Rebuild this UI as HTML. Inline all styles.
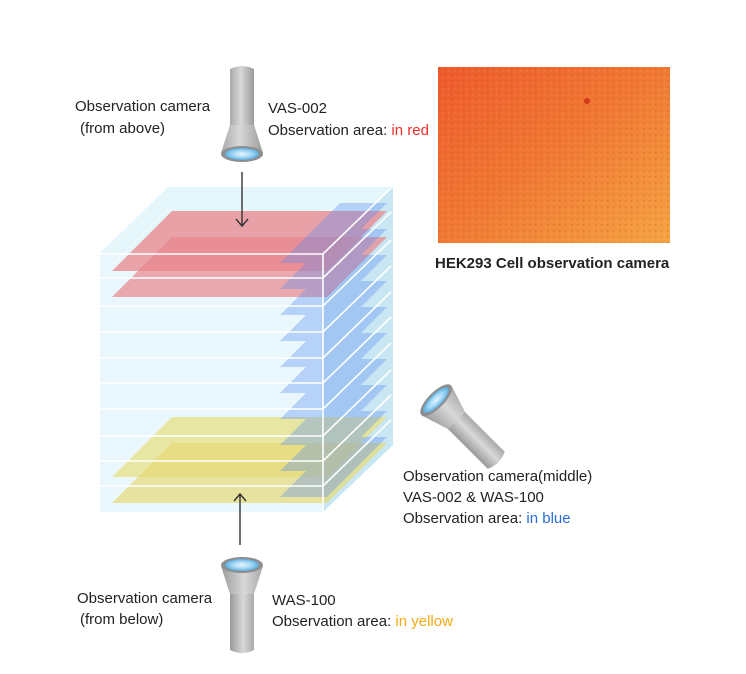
<!DOCTYPE html>
<html><head><meta charset="utf-8"><style>
body{margin:0;background:#fff;width:746px;height:669px;overflow:hidden;font-family:"Liberation Sans",sans-serif}
svg text{font-family:"Liberation Sans",sans-serif;font-size:15px;fill:#222}
</style></head><body>
<svg width="746" height="669" viewBox="0 0 746 669" xmlns="http://www.w3.org/2000/svg">
<defs>
<linearGradient id="bodyg" x1="0" x2="1"><stop offset="0" stop-color="#a9a9a9"/><stop offset="0.45" stop-color="#d8d8d8"/><stop offset="1" stop-color="#9a9a9a"/></linearGradient>
<radialGradient id="lens" cx="0.5" cy="0.5" r="0.5"><stop offset="0" stop-color="#e8f6ff"/><stop offset="0.6" stop-color="#9fd4f2"/><stop offset="1" stop-color="#5aaee0"/></radialGradient>
<linearGradient id="photo" x1="0" y1="0" x2="1" y2="1"><stop offset="0" stop-color="#ee5a2c"/><stop offset="0.5" stop-color="#f07a34"/><stop offset="1" stop-color="#f5a444"/></linearGradient>
<pattern id="dots" width="6" height="6" patternUnits="userSpaceOnUse"><rect x="1" y="2" width="1.5" height="1.5" fill="#c8401c" opacity="0.35"/><rect x="4" y="4.5" width="1.2" height="1.2" fill="#ffb070" opacity="0.35"/></pattern>
<g id="cam">
<path d="M-12,-30 L-12,-88 Q0,-94 12,-88 L12,-30 Z" fill="url(#bodyg)"/>
<path d="M-12,-32 L12,-32 L21,-4 L-21,-4 Z" fill="url(#bodyg)"/>
<ellipse cx="0" cy="-3" rx="21" ry="8" fill="#8e8e8e"/>
<ellipse cx="0" cy="-3" rx="17" ry="6" fill="url(#lens)"/>
</g>
</defs>

<rect x="438" y="67" width="232" height="176" fill="url(#photo)"/>
<rect x="438" y="67" width="232" height="176" fill="url(#dots)"/>
<circle cx="587" cy="101" r="3" fill="#d23a1a"/>
<text x="435" y="268" style="font-weight:bold">HEK293 Cell observation camera</text>

<polygon points="100,253 168,187 393,187 323,253" fill="#e6f7fc"/>
<rect x="100" y="253" width="223" height="259" fill="#eaf8fd"/>
<polygon points="323,253 393,187 393,445 323,512" fill="#c9e7f2"/>

<polygon points="172,211 387,211 327,271 112,271" fill="#e8868b" opacity="0.75"/>
<polygon points="172,237 387,237 327,297 112,297" fill="#e8868b" opacity="0.7"/>
<polygon points="172,417 387,417 327,477 112,477" fill="#e5e083" opacity="0.75"/>
<polygon points="172,443 387,443 327,503 112,503" fill="#e5d878" opacity="0.7"/>
<g fill="#5b8cf2" opacity="0.35">
<polygon points="340,203 387,203 327,263 280,263"/>
<polygon points="340,229 387,229 327,289 280,289"/>
<polygon points="340,255 387,255 327,315 280,315"/>
<polygon points="340,281 387,281 327,341 280,341"/>
<polygon points="340,307 387,307 327,367 280,367"/>
<polygon points="340,333 387,333 327,393 280,393"/>
<polygon points="340,359 387,359 327,419 280,419"/>
<polygon points="340,385 387,385 327,445 280,445"/>
<polygon points="340,411 387,411 327,471 280,471"/>
<polygon points="340,437 387,437 327,497 280,497"/>
</g>
<g stroke="#fff" stroke-width="1.6" fill="none">
<path d="M100,254H323L391,188"/>
<path d="M100,278H323L391,212"/>
<path d="M100,306H323L391,240"/>
<path d="M100,332H323L391,266"/>
<path d="M100,358H323L391,292"/>
<path d="M100,383H323L391,317"/>
<path d="M100,409H323L391,343"/>
<path d="M100,436H323L391,370"/>
<path d="M100,461H323L391,395"/>
<path d="M100,486H323L391,420"/>
<path d="M323,254V512"/>
</g>

<g stroke="#333" stroke-width="1.4" fill="none">
<path d="M242,172V226M236,219L242,226L248,219"/>
<path d="M240,545V494M234,501L240,494L246,501"/>
</g>

<use href="#cam" transform="translate(242,157)"/>
<use href="#cam" transform="translate(242,562) rotate(180)"/>
<use href="#cam" transform="translate(434,398) rotate(135)"/>

<text x="75" y="111">Observation camera</text>
<text x="80" y="133">(from above)</text>
<text x="268" y="113">VAS-002</text>
<text x="268" y="135">Observation area: <tspan style="fill:#f0302a">in red</tspan></text>

<text x="403" y="481">Observation camera(middle)</text>
<text x="403" y="502">VAS-002 &amp; WAS-100</text>
<text x="403" y="523">Observation area: <tspan style="fill:#2a6fd8">in blue</tspan></text>

<text x="77" y="603">Observation camera</text>
<text x="80" y="624">(from below)</text>
<text x="272" y="605">WAS-100</text>
<text x="272" y="626">Observation area: <tspan style="fill:#f2aa10">in yellow</tspan></text>
</svg>
</body></html>
